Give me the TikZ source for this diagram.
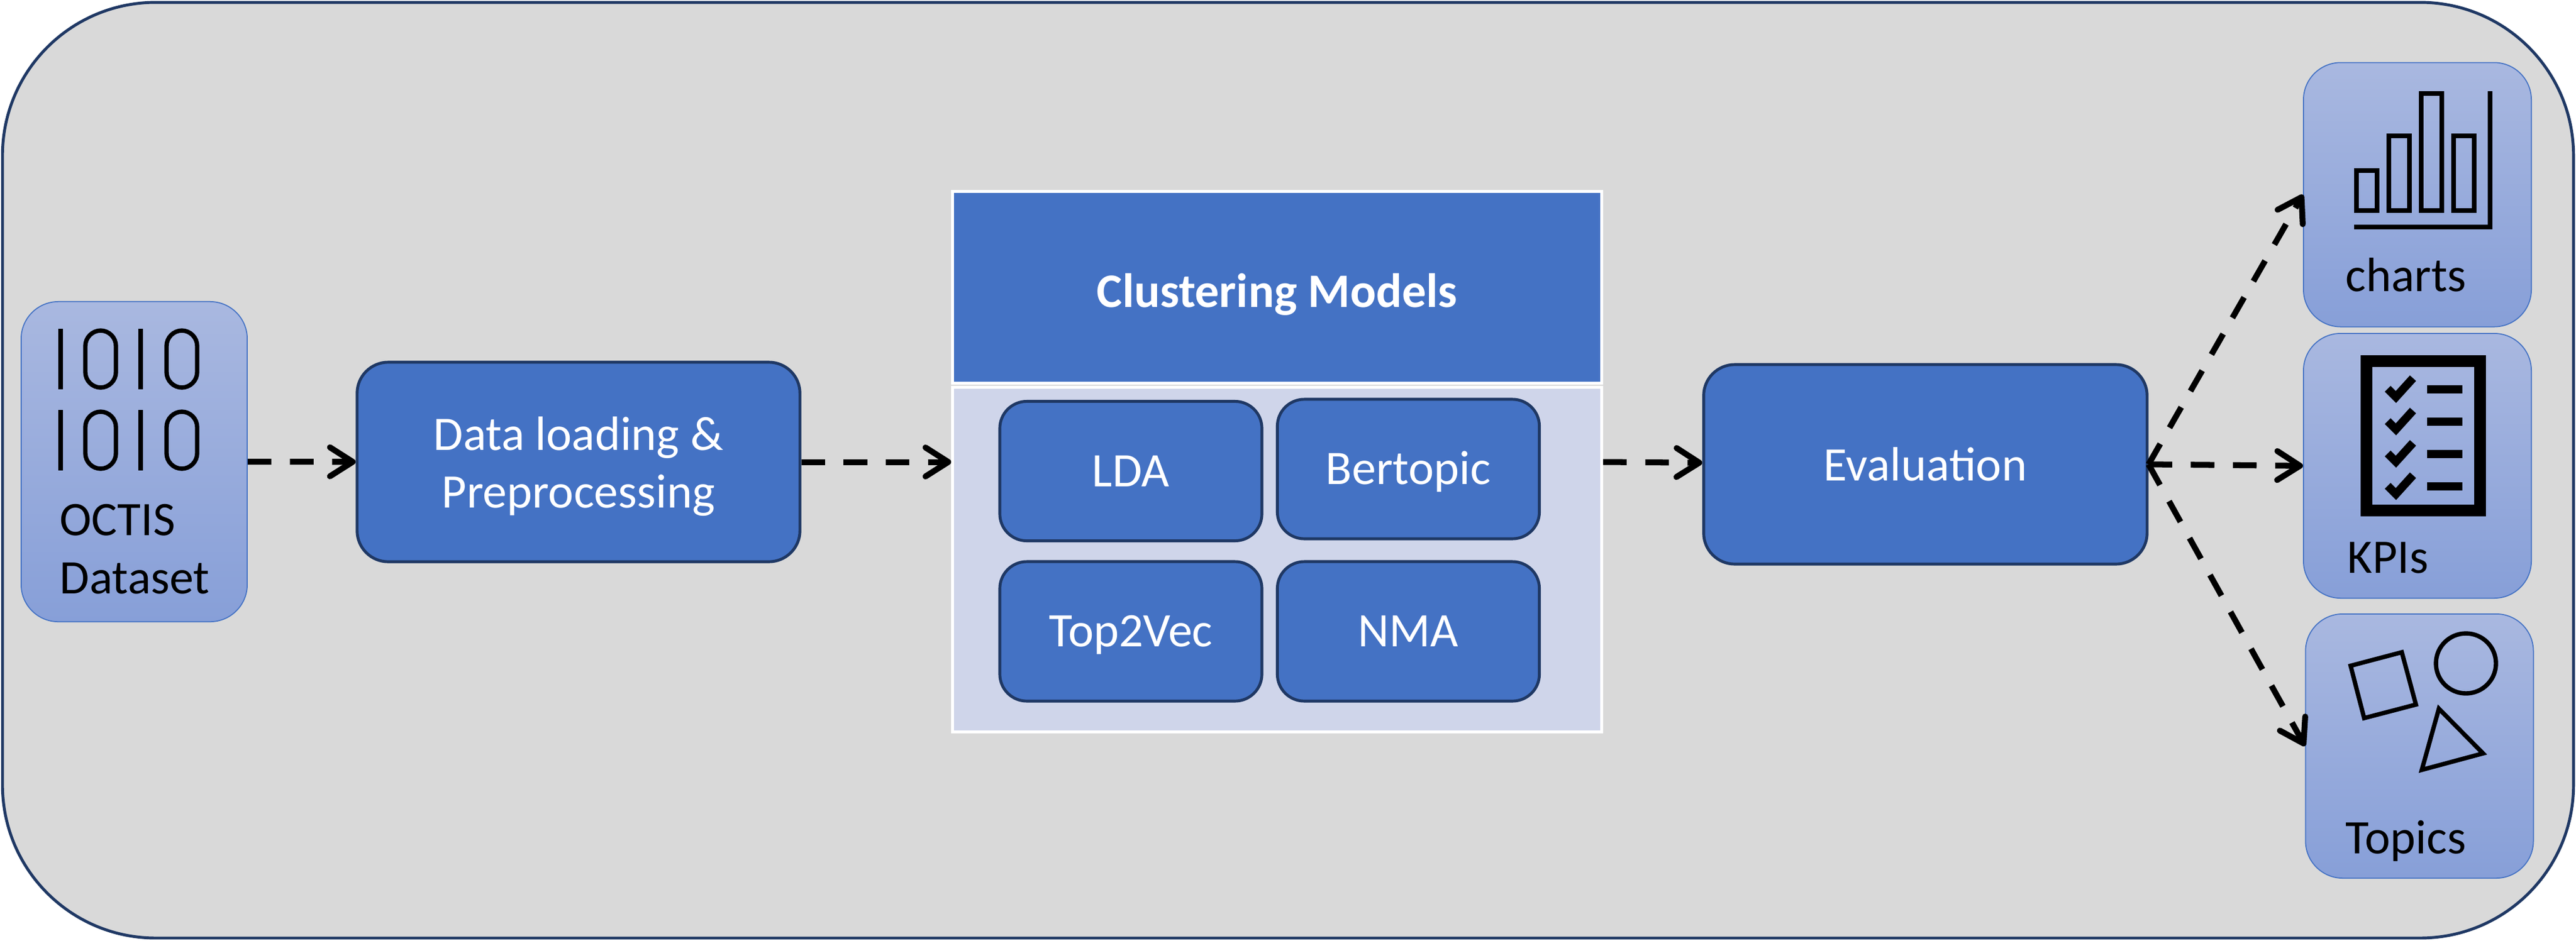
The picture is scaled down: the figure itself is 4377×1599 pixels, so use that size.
\documentclass[tikz,border=0pt]{standalone}
\usepackage{fontspec}
\setmainfont{Carlito}
\usetikzlibrary{arrows.meta,positioning}
\definecolor{myblue}{RGB}{68,114,196}
\definecolor{mydark}{RGB}{31,56,100}
\definecolor{mygrey}{RGB}{217,217,217}
\definecolor{mypale}{RGB}{207,213,234}
\definecolor{mytop}{RGB}{169,184,224}
\definecolor{mybottom}{RGB}{135,159,216}

\begin{document}
\begin{tikzpicture}[x=0.01cm,y=-0.01cm,
	every node/.style={inner sep=0pt,font=\fontsize{23.3}{28}\selectfont},
	mainnode/.style={draw=mydark,line width=1.4pt,fill=myblue,text=white,rounded corners=15pt,align=center},
	modelnode/.style={mainnode,minimum width=4.45cm,minimum height=2.37cm,rounded corners=13pt,text height=19pt,text depth=4pt},
	iconnode/.style={draw=myblue,line width=0.5pt,top color=mytop,bottom color=mybottom,rounded corners=18pt,minimum width=3.87cm,minimum height=4.49cm},
	headnode/.style={draw=white,line width=1.4pt,minimum width=11.02cm},
	labelnode/.style={anchor=base west,text=black},
	iconline/.style={draw=black,line width=2.1pt},
	flow/.style={line width=2.85pt,dash pattern=on 11.4pt off 9pt,-{Straight Barb[length=11pt,width=14pt,round]}},
	]
	\useasboundingbox (0,0) rectangle (4377,1599);
	
	% the background
	\node[draw=mydark,line width=1.4pt,fill=mygrey,rounded corners=74pt,minimum width=43.66cm,minimum height=15.90cm] (panel) at (2188.5,799.5) {};
	
	% the input
	\node[iconnode,minimum width=3.84cm,minimum height=5.44cm] (octis) at (228,785) {};
	\foreach \r in {559,697} {
	\begin{scope}[shift={(0,\r)}]
	\draw[iconline] (103,0) -- (103,103);
	\draw[iconline] (239,0) -- (239,103);
	\draw[iconline,rounded corners=7.5pt] (145,3) rectangle (197,100);
	\draw[iconline,rounded corners=7.5pt] (283,3) rectangle (335,100);
	\end{scope}
	}
	\node[labelnode,align=left,anchor=north west] (octistext) at (101,857) {OCTIS\\Dataset};
	
	% the first step
	\node[mainnode,minimum width=7.52cm,minimum height=3.39cm] (loading) at (983,785.5) {Data loading \&\rule{0pt}{20.5pt}\\Preprocessing};
	
	% the clustering models
	\node[headnode,fill=myblue,text=white,minimum height=3.25cm,text height=23pt,font=\fontsize{23.3}{28}\selectfont\bfseries] (head) at (2170,488.5) {Clustering Models};
	\node[headnode,fill=mypale,minimum height=5.85cm] (body) at (2170,951.5) {};
	\foreach \n/\t/\x/\y in {lda/LDA/1921.5/801,bertopic/Bertopic/2393/797.5,topvec/Top2Vec/1921.5/1073.5,nma/NMA/2393/1073.5}
	\node[modelnode] (\n) at (\x,\y) {\t};
	
	% the evaluation
	\node[mainnode,minimum width=7.53cm,minimum height=3.39cm] (eval) at (3271.5,789.5) {Evaluation};
	
	% the outputs
	\node[iconnode] (charts) at (4107.5,331) {};
	\node[iconnode,minimum height=4.5cm] (kpis) at (4107.5,792) {};
	\node[iconnode] (topics) at (4111,1268.5) {};
	\node[labelnode] (chartstext) at (3985,495) {charts};
	\node[labelnode] (kpistext) at (3988,974) {KPIs};
	\node[labelnode] (topicstext) at (3985,1451) {Topics};
	
	% the chart icon
	\foreach \x/\y in {4004/290,4059/231,4114/159,4169/231}
	\draw[iconline] (\x,\y) rectangle (\x+35,358);
	\draw[iconline] (4000,386) -- (4231,386) -- (4231,155);
	
	% the check list icon
	\draw[draw=black,line width=5.7pt] (4021,614) rectangle (4214,868);
	\foreach \y in {662,717,772,827} {
	\draw[draw=black,line width=4pt] (4057,\y-1) -- (4071,\y+13) -- (4100,\y-19);
	\fill[black] (4124,\y-7) rectangle (4184,\y+7);
	}
	
	% the shapes icon
	\draw[iconline] (3994,1132) -- (4081,1109) -- (4105,1198) -- (4017,1221) -- cycle;
	\draw[iconline] (4190,1128) circle (51);
	\draw[iconline] (4144,1205) -- (4219,1281) -- (4115,1309) -- cycle;
	
	% the edges
	\draw[flow] (octis) -- (loading);
	\draw[flow] (loading) -- (loading -| body.west);
	\draw[flow] (body.east |- loading) -- (eval);
	\draw[flow] (eval.east) -- (charts.west);
	\draw[flow] (eval.east) -- (kpis.west);
	\draw[flow] (eval.east) -- (topics.west);
\end{tikzpicture}
\end{document}
